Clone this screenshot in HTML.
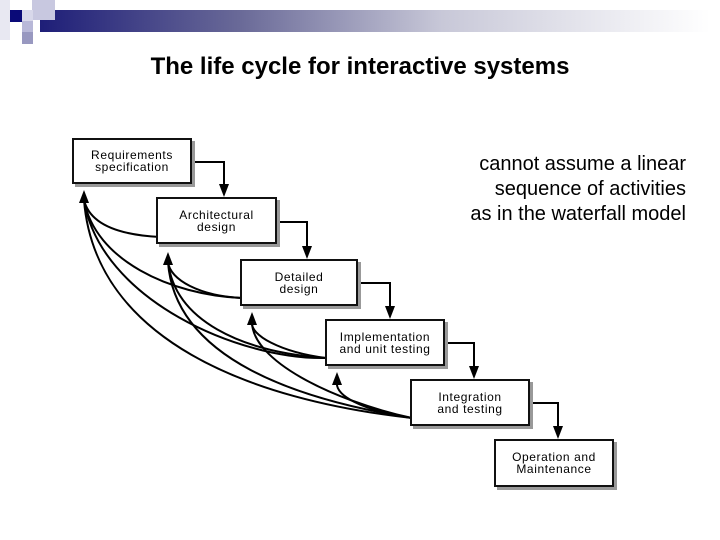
<!DOCTYPE html>
<html><head><style>
body{margin:0;width:720px;height:540px;background:#fff;position:relative;overflow:hidden;font-family:"Liberation Sans",sans-serif}
.a{position:absolute}
.box{position:absolute;background:#fff;border:2px solid #111;box-sizing:border-box;box-shadow:3px 3px 0 #999;font-size:12px;letter-spacing:0.6px;text-align:center;line-height:12px;display:flex;align-items:center;justify-content:center}
</style></head><body>
<div class="a" style="left:40px;top:10px;width:670px;height:22px;background:linear-gradient(90deg,#1e1e78,#6a6a98 30%,#c8c8d8 60%,#fff)"></div>
<div class="a" style="left:0;top:0;width:10px;height:40px;background:#e8e8f2"></div>
<div class="a" style="left:32px;top:0;width:23px;height:20px;background:#c8c8e0"></div>
<div class="a" style="left:22px;top:10px;width:11px;height:11px;background:#d8d8ea"></div>
<div class="a" style="left:10px;top:10px;width:12px;height:12px;background:#0a0a78"></div>
<div class="a" style="left:22px;top:21px;width:11px;height:11px;background:#b8b8d8"></div>
<div class="a" style="left:22px;top:32px;width:11px;height:12px;background:#9898c0"></div>
<div class="a" style="left:0;top:53px;width:720px;text-align:center;font-size:24px;font-weight:bold">The life cycle for interactive systems</div>
<div class="a" style="left:400px;top:152px;width:286px;text-align:right;font-size:20px;line-height:25px">cannot assume a linear<br>sequence of activities<br>as in the waterfall model</div>
<svg class="a" style="left:0;top:0" width="720" height="540">
<g fill="none" stroke="#000" stroke-width="2">
<path d="M192 162 H224 V186"/>
<path d="M277 222 H307 V248"/>
<path d="M358 283 H390 V308"/>
<path d="M445 343 H474 V368"/>
<path d="M530 403 H558 V428"/>
<path d="M160 237 C120 235 90 225 84 200"/>
<path d="M242 298 C170 295 95 260 84 200"/>
<path d="M242 298 C200 296 170 280 168 262"/>
<path d="M326 358 C240 360 100 300 84 200"/>
<path d="M326 358 C240 352 175 320 168 262"/>
<path d="M326 358 C280 352 250 335 252 322"/>
<path d="M412 418 C250 400 95 340 84 200"/>
<path d="M412 418 C300 400 175 360 168 262"/>
<path d="M412 418 C330 400 252 360 252 322"/>
<path d="M412 418 C360 410 335 395 337 382"/>
</g>
<g fill="#000">
<path d="M219 184 L229 184 L224 197z"/>
<path d="M302 246 L312 246 L307 259z"/>
<path d="M385 306 L395 306 L390 319z"/>
<path d="M469 366 L479 366 L474 379z"/>
<path d="M553 426 L563 426 L558 439z"/>
<path d="M79 203 L89 203 L84 190z"/>
<path d="M163 265 L173 265 L168 252z"/>
<path d="M247 325 L257 325 L252 312z"/>
<path d="M332 385 L342 385 L337 372z"/>
</g></svg>
<div class="box" style="left:72px;top:138px;width:120px;height:46px">Requirements<br>specification</div>
<div class="box" style="left:156px;top:197px;width:121px;height:47px">Architectural<br>design</div>
<div class="box" style="left:240px;top:259px;width:118px;height:47px">Detailed<br>design</div>
<div class="box" style="left:325px;top:319px;width:120px;height:47px">Implementation<br>and unit testing</div>
<div class="box" style="left:410px;top:379px;width:120px;height:47px">Integration<br>and testing</div>
<div class="box" style="left:494px;top:439px;width:120px;height:48px">Operation and<br>Maintenance</div>
</body></html>
